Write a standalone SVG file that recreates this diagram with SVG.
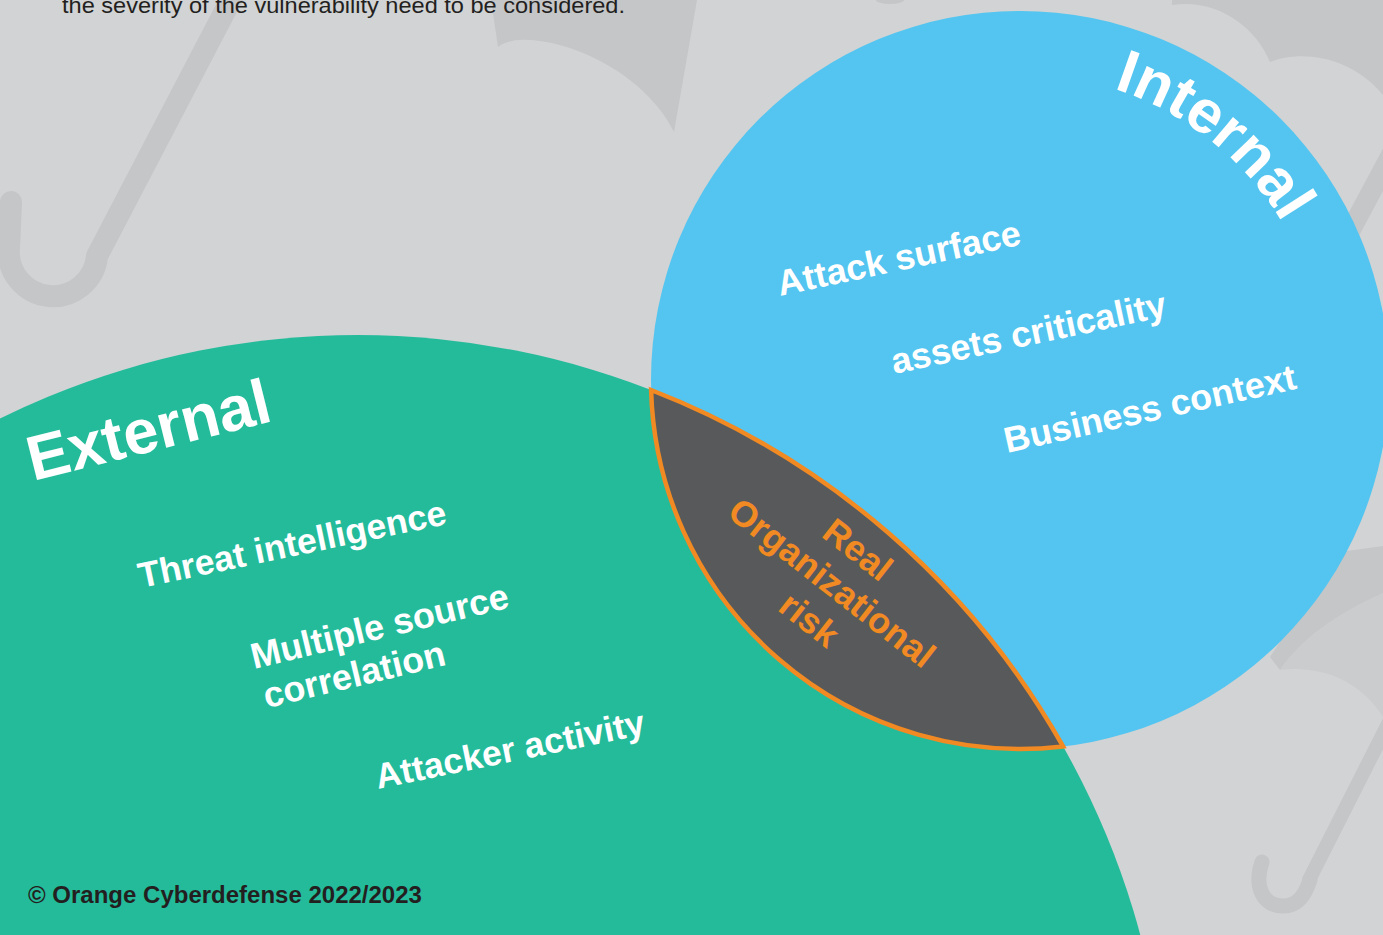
<svg xmlns="http://www.w3.org/2000/svg" width="1383" height="935" viewBox="0 0 1383 935">
  <defs>
    <style>
      .deco { fill: #c5c6c8; }
      .deco-line { fill: none; stroke: #c5c6c8; stroke-linecap: round; stroke-linejoin: round; }
      .label { font-family: "Liberation Sans", Arial, sans-serif; font-weight: bold; fill: #ffffff; }
      .title { font-family: "Liberation Sans", Arial, sans-serif; font-weight: bold; fill: #ffffff; }
      .core { font-family: "Liberation Sans", Arial, sans-serif; font-weight: bold; fill: #f18a23; font-size: 36px; text-anchor: middle; }
      .note { font-family: "Liberation Sans", Arial, sans-serif; fill: #231f20; }
    </style>
    <path id="internal-arc" d="M 1099.2 84.4 A 306 306 0 0 1 1307.5 275.3"/>
  </defs>

  <!-- background -->
  <rect x="0" y="0" width="1383" height="935" fill="#d1d3d4"/>

  <!-- faint umbrella decorations -->
  <g id="umbrellas">
    <!-- top-left umbrella: shaft and hook -->
    <path class="deco-line" stroke-width="22" d="M 11 202 L 9 248 A 44 44 0 0 0 97 256 L 236 -10"/>
    <!-- top-centre canopy -->
    <path class="deco" d="M 491 0 L 498 47 Q 510 38 531 40 C 585 44 650 82 674 132 L 697 0 Z"/>
    <ellipse class="deco" cx="890" cy="0" rx="14" ry="4"/>
    <!-- top-right umbrella -->
    <path class="deco" d="M 1172 0 L 1172 5 C 1215 -2 1255 25 1270 62 C 1300 50 1350 55 1383 95 L 1383 0 Z"/>
    <path class="deco-line" stroke-width="20" d="M 1400 138 L 1300 325"/>
    <!-- bottom-right umbrella -->
    <path class="deco" d="M 1340 552 L 1383 546 L 1383 593 C 1335 615 1300 640 1280 670 L 1270 657 Z"/>
    <path fill="#cbcccd" d="M 1280 670 C 1300 640 1335 615 1383 593 L 1383 717 C 1360 680 1320 665 1280 670 Z"/>
    <path class="deco-line" stroke-width="14" d="M 1392 716 L 1309 880"/>
    <path class="deco-line" stroke-width="15" d="M 1262 862 C 1254 885 1262 906 1283 906 C 1298 906 1305 895 1310 880"/>
  </g>

  <!-- header text -->
  <text class="note" x="62" y="12.5" font-size="22" textLength="563" lengthAdjust="spacingAndGlyphs">the severity of the vulnerability need to be considered.</text>

  <!-- external factors -->
  <g id="external">
    <circle cx="358" cy="1145" r="810" fill="#24bb9b"/>
    <text class="title" font-size="63" transform="translate(33,481) rotate(-14)">External</text>
    <text class="label" font-size="35.5" transform="translate(141,588) rotate(-11.8)">Threat intelligence</text>
    <text class="label" font-size="36" transform="translate(254,669) rotate(-13.5)">
      <tspan x="0" y="0">Multiple source</tspan>
      <tspan x="3" y="41">correlation</tspan>
    </text>
    <text class="label" font-size="35.5" transform="translate(378,789) rotate(-11.6)">Attacker activity</text>
  </g>

  <!-- internal factors -->
  <g id="internal">
    <circle cx="1020" cy="380" r="369" fill="#53c5f0"/>
    <text class="title" font-size="61"><textPath href="#internal-arc" startOffset="15">Internal</textPath></text>
    <text class="label" font-size="36" transform="translate(780,296) rotate(-12)">Attack surface</text>
    <text class="label" font-size="36" transform="translate(894,374) rotate(-12)">assets criticality</text>
    <text class="label" font-size="36" transform="translate(1007,453) rotate(-12.5)">Business context</text>
  </g>

  <!-- overlap of the two sets -->
  <g id="real-risk">
    <path d="M 651.1 390 A 810 810 0 0 1 1063.1 746.4 A 369 369 0 0 1 651.1 390 Z" fill="#58595b" stroke="#f18a23" stroke-width="4.5" stroke-linejoin="miter"/>
    <text class="core" transform="translate(835,587) rotate(38)">
      <tspan x="0" y="-31">Real</tspan>
      <tspan x="0" y="11">Organizational</tspan>
      <tspan x="0" y="54">risk</tspan>
    </text>
  </g>

  <!-- connectors: none in this figure -->
  <g id="connectors"/>

  <!-- footer -->
  <text class="note" x="28" y="903" font-size="24" font-weight="bold">© Orange Cyberdefense 2022/2023</text>
</svg>
